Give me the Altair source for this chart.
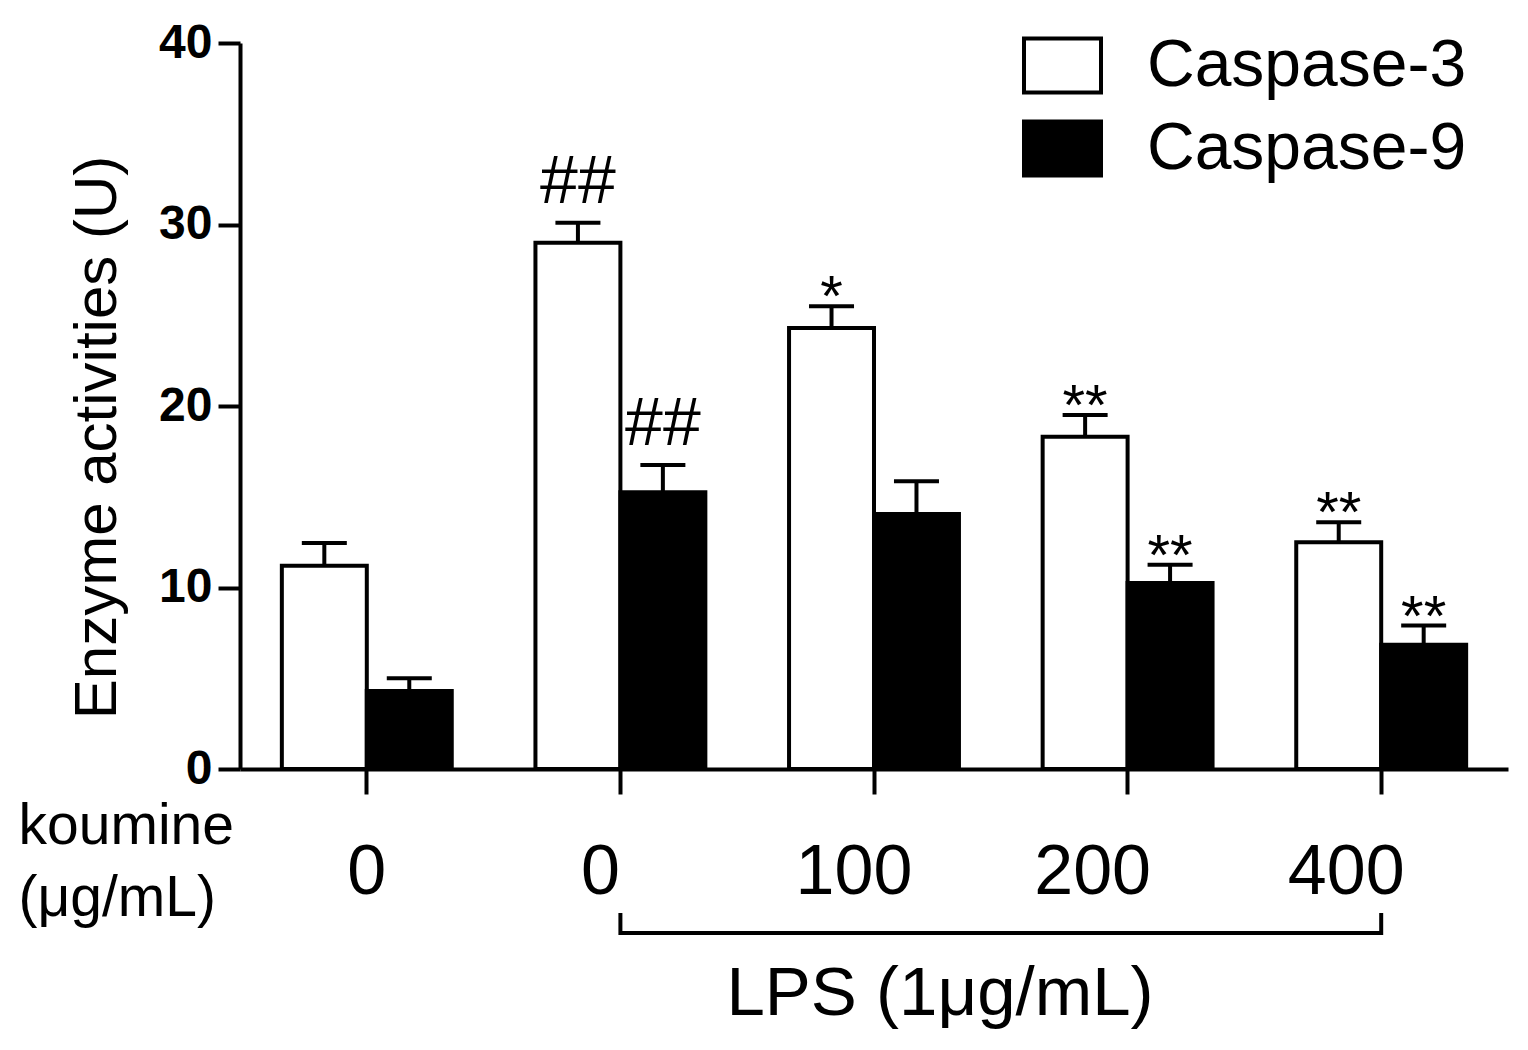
import altair as alt
import pandas as pd

groups = ["G1", "G2", "G3", "G4", "G5"]
koumine = ["0", "0", "100", "200", "400"]
series = ["Caspase-3", "Caspase-9"]
casp3 = [11.2, 29.0, 24.3, 18.3, 12.5]
casp3_err = [1.25, 1.1, 1.2, 1.2, 1.1]
casp9 = [4.3, 15.25, 14.05, 10.25, 6.85]
casp9_err = [0.7, 1.5, 1.8, 1.0, 1.05]
casp3_mark = ["", "##", "*", "**", "**"]
casp9_mark = ["", "##", "", "**", "**"]
y_title = "Enzyme activities (U)"
x_title = ["koumine", "(μg/mL)"]
lps_label = "LPS (1μg/mL)"
lps_groups = ["G2", "G5"]

rows = []
for i, g in enumerate(groups):
    rows.append({"group": g, "series": series[0], "value": casp3[i],
                 "upper": casp3[i] + casp3_err[i], "mark": casp3_mark[i]})
    rows.append({"group": g, "series": series[1], "value": casp9[i],
                 "upper": casp9[i] + casp9_err[i], "mark": casp9_mark[i]})
df = pd.DataFrame(rows)

FONT = "Liberation Sans"
arr_labels = "[" + ",".join("'%s'" % k for k in koumine) + "]"
arr_groups = "[" + ",".join("'%s'" % g for g in groups) + "]"
label_expr = "%s[indexof(%s, datum.value)]" % (arr_labels, arr_groups)

label_offset = {
    "condition": [
        {"test": "datum.value == 'G1'", "value": 0},
        {"test": "datum.value == 'G4' || datum.value == 'G5'", "value": -35},
    ],
    "value": -20,
}

x_enc = alt.X(
    "group:N",
    scale=alt.Scale(domain=groups, paddingInner=0.33, paddingOuter=0.165),
    axis=alt.Axis(
        title=x_title, labelExpr=label_expr, labelAngle=0, labelFontSize=70,
        labelFont=FONT, labelPadding=44, labelOffset=label_offset,
        tickSize=25, tickWidth=4,
        domainWidth=4, titleFont=FONT, titleFontSize=57, titleFontWeight="normal",
        titleAlign="left", titleX=-222, titleY=74, titleBaseline="alphabetic",
        titleLineHeight=72, grid=False,
    ),
)
xoff = alt.XOffset("series:N", scale=alt.Scale(domain=series, paddingInner=0, paddingOuter=0))
y_scale = alt.Scale(domain=[0, 40], nice=False)

bars = alt.Chart(df).mark_bar(stroke="black", strokeWidth=4).encode(
    x=x_enc,
    xOffset=xoff,
    y=alt.Y(
        "value:Q", scale=y_scale,
        axis=alt.Axis(
            title=y_title, values=[0, 10, 20, 30, 40], labelFont=FONT,
            labelFontSize=48, labelFontWeight="bold", labelPadding=6,
            tickSize=22, tickWidth=4, domainWidth=4, grid=False,
            titleFont=FONT, titleFontSize=60, titleFontWeight="normal",
            titleX=-125, titleY=394, titleBaseline="alphabetic", titleAngle=270,
        ),
    ),
    color=alt.Color(
        "series:N",
        scale=alt.Scale(domain=series, range=["white", "black"]),
        legend=alt.Legend(
            title=None, orient="none", legendX=782, legendY=-18,
            labelFont=FONT, labelFontSize=66, labelOffset=44, labelLimit=600,
            symbolType="M-1,-0.7H1V0.7H-1Z", symbolSize=5929,
            symbolStrokeColor="black", symbolStrokeWidth=4, symbolOpacity=1,
            rowPadding=7, padding=0,
        ),
    ),
)

err_line = alt.Chart(df).mark_rule(color="black", strokeWidth=4).encode(
    x="group:N", xOffset=xoff, y=alt.Y("value:Q", scale=y_scale), y2="upper:Q"
)
err_cap = alt.Chart(df).mark_tick(color="black", thickness=4, size=45, opacity=1).encode(
    x="group:N", xOffset=xoff, y=alt.Y("upper:Q", scale=y_scale)
)

hash_txt = alt.Chart(df).transform_filter("datum.mark == '##'").mark_text(
    font=FONT, fontSize=68, baseline="alphabetic", align="center", dy=-20, color="black"
).encode(x="group:N", xOffset=xoff, y=alt.Y("upper:Q", scale=y_scale), text="mark:N")

star_txt = alt.Chart(df).transform_filter("indexof(datum.mark, '*') >= 0").mark_text(
    font=FONT, fontSize=58, baseline="alphabetic", align="center", dy=10, color="black"
).encode(x="group:N", xOffset=xoff, y=alt.Y("upper:Q", scale=y_scale), text="mark:N")

bracket_h = alt.Chart(pd.DataFrame({"group": [lps_groups[0]], "group_end": [lps_groups[1]]})).mark_rule(
    color="black", strokeWidth=4
).encode(x="group:N", x2="group_end:N", y=alt.value(890))

bracket_v = alt.Chart(pd.DataFrame({"group": lps_groups})).mark_rule(
    color="black", strokeWidth=4
).encode(x="group:N", y=alt.value(870), y2=alt.value(892))

lps_txt = alt.Chart(pd.DataFrame({"t": [lps_label]})).mark_text(
    font=FONT, fontSize=69, baseline="alphabetic", align="center", color="black"
).encode(x=alt.value(700), y=alt.value(972), text="t:N")

chart = alt.layer(bars, err_line, err_cap, hash_txt, star_txt, bracket_h, bracket_v, lps_txt).properties(
    width=1268, height=726,
    autosize=alt.AutoSizeParams(type="none"),
    padding={"left": 232, "top": 35, "right": 12, "bottom": 270},
).configure_view(stroke=None).configure_axis(
    domainColor="black", tickColor="black", labelColor="black", titleColor="black"
)

chart.save("out.html", embed_options={"renderer": "svg", "actions": False})
